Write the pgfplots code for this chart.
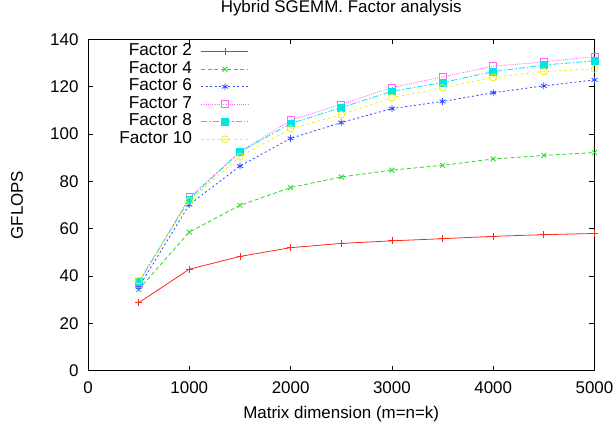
\documentclass[border=0pt]{standalone}
\usepackage{fontspec}
\setmainfont{Liberation Sans}
\usepackage{pgfplots}
\pgfplotsset{compat=1.18}
\definecolor{gpred}{RGB}{255,40,20}
\definecolor{gpgreen}{RGB}{40,215,40}
\definecolor{gpblue}{RGB}{40,70,255}
\definecolor{gpmag}{RGB}{255,100,255}
\definecolor{gpcyan}{RGB}{0,230,230}
\definecolor{gpyellow}{RGB}{240,240,0}
\begin{document}
\begin{tikzpicture}
\useasboundingbox (-88bp,-56.3bp) rectangle (527bp,370.7bp);
\begin{axis}[
  scale only axis,
  width=506.5bp, height=331.2bp,
  at={(0,0)}, anchor=south west,
  xmin=0, xmax=5000, ymin=0, ymax=140,
  xtick={0,1000,...,5000}, ytick={0,20,...,140},
  minor tick num=0,
  tick align=inside,
  xtick pos=both, ytick pos=both,
  major tick length=5bp,
  axis line style={line width=0.9pt, black},
  every tick/.style={black, line width=0.7pt},
  scaled ticks=false,
  /pgf/number format/assume math mode=true,
  /pgf/number format/set thousands separator={},
  font=\fontsize{17}{20}\selectfont,
  ticklabel style={font=\fontsize{17}{20}\selectfont},
  xticklabel style={anchor=base, yshift=-23bp},
  yticklabel style={anchor=east, xshift=-6bp},
  title={Hybrid SGEMM. Factor analysis},
  title style={at={(axis description cs:0.5,1)}, anchor=base, yshift=21.2bp, font=\fontsize{17}{20}\selectfont},
  xlabel={Matrix dimension (m=n=k)},
  xlabel style={at={(axis description cs:0.5,0)}, anchor=base, yshift=-47.6bp},
  ylabel={GFLOPS},
  ylabel style={at={(axis description cs:-0.1402,0.5)}, anchor=center, rotate=0},
  legend plot pos=right,
  legend cell align=right,
  legend style={at={(axis description cs:0.318,0.99)}, anchor=north east,
    draw=none, fill=none, inner sep=0pt, row sep=0pt, column sep=8bp,
    nodes={inner sep=1pt, text height=11.6bp, text depth=3.9bp},
    font=\fontsize{17.3}{20}\selectfont},
  legend image code/.code={\draw[mark repeat=2,mark phase=2] plot coordinates {(0bp,0bp)(23.5bp,0bp)(47bp,0bp)};},
  every axis plot/.append style={line width=0.8pt, mark size=3.4bp, mark options={solid}},
]
\addplot[gpred, mark=+] coordinates {(500,28.7)(1000,42.9)(1500,48.3)(2000,52.0)(2500,53.8)(3000,54.9)(3500,55.8)(4000,56.8)(4500,57.5)(5000,58.0)};
\addlegendentry{Factor 2}
\addplot[gpgreen, mark=x, dash pattern=on 4bp off 2.5bp] coordinates {(500,34.3)(1000,58.6)(1500,69.9)(2000,77.4)(2500,81.9)(3000,84.8)(3500,86.8)(4000,89.5)(4500,91.0)(5000,92.2)};
\addlegendentry{Factor 4}
\addplot[gpblue, mark=asterisk, dash pattern=on 2bp off 2.5bp] coordinates {(500,35.2)(1000,70.2)(1500,86.5)(2000,98.2)(2500,104.9)(3000,110.8)(3500,113.8)(4000,117.5)(4500,120.4)(5000,122.9)};
\addlegendentry{Factor 6}
\addplot[gpmag, mark=square, dash pattern=on 1bp off 1.2bp] coordinates {(500,36.7)(1000,73.3)(1500,92.5)(2000,105.9)(2500,112.6)(3000,119.7)(3500,124.2)(4000,128.7)(4500,130.5)(5000,132.8)};
\addlegendentry{Factor 7}
\addplot[gpcyan, mark=square*, dash pattern=on 6bp off 2bp on 1.5bp off 2bp] coordinates {(500,37.4)(1000,72.4)(1500,92.5)(2000,104.5)(2500,111.2)(3000,118.1)(3500,121.8)(4000,126.4)(4500,129.2)(5000,131.0)};
\addlegendentry{Factor 8}
\addplot[gpyellow, mark=o, dash pattern=on 2.5bp off 3bp] coordinates {(500,38.1)(1000,71.8)(1500,90.5)(2000,102.3)(2500,108.2)(3000,115.4)(3500,119.6)(4000,124.0)(4500,126.4)(5000,127.6)};
\addlegendentry{Factor 10}
\end{axis}
\end{tikzpicture}
\end{document}
